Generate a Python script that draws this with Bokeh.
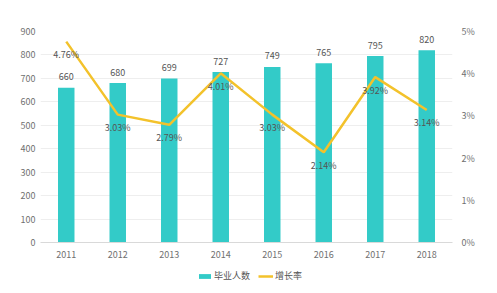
from bokeh.plotting import figure
from bokeh.layouts import column
from bokeh.models import ColumnDataSource, Range1d, LinearAxis, Legend, LegendItem, PrintfTickFormatter, FixedTicker
from bokeh.core.properties import value
from bokeh.embed import file_html
from bokeh.resources import INLINE

years = ["2011", "2012", "2013", "2014", "2015", "2016", "2017", "2018"]
graduates = [660, 680, 699, 727, 749, 765, 795, 820]
growth = [4.76, 3.03, 2.79, 4.01, 3.03, 2.14, 3.92, 3.14]
left_ticks = [0, 100, 200, 300, 400, 500, 600, 700, 800, 900]
right_ticks = [0, 1, 2, 3, 4, 5]

FONT = "Noto Sans CJK SC"
BAR = "#33CBC8"
LINE = "#F3C22B"
TXT = "#707070"
LBL = "#555555"

src = ColumnDataSource(dict(
    year=years, grad=graduates, rate=growth,
    grad_lbl=[str(v) for v in graduates],
    rate_lbl=["%.2f%%" % v for v in growth],
))

p = figure(width=497, height=267, x_range=years, y_range=Range1d(0, 900),
           output_backend="svg", toolbar_location=None,
           min_border_left=40, min_border_right=45, min_border_top=31, min_border_bottom=25)
p.extra_y_ranges = {"right": Range1d(0, 5)}
p.outline_line_color = None
p.background_fill_color = "white"
p.border_fill_color = "white"

bars = p.vbar(x="year", top="grad", width=0.32, source=src, fill_color=BAR, line_color=None)
ln = p.line(x="year", y="rate", source=src, y_range_name="right", line_color=LINE, line_width=2.5)

p.text(x="year", y="grad", text="grad_lbl", source=src, y_offset=-11,
       text_align="center", text_baseline="middle", text_font=value(FONT),
       text_font_size="9px", text_color=LBL)
p.text(x="year", y="rate", text="rate_lbl", source=src, y_range_name="right", y_offset=13,
       text_align="center", text_baseline="middle", text_font=value(FONT),
       text_font_size="9px", text_color=LBL)

p.xgrid.grid_line_color = None
p.ygrid.grid_line_color = "#EEEEEE"
p.ygrid.ticker = FixedTicker(ticks=left_ticks)

p.yaxis.ticker = FixedTicker(ticks=left_ticks)
rax = LinearAxis(y_range_name="right", ticker=FixedTicker(ticks=right_ticks),
                 formatter=PrintfTickFormatter(format="%d%%"))
p.add_layout(rax, "right")

for ax in [p.yaxis[0], p.xaxis[0], rax]:
    ax.major_tick_line_color = None
    ax.minor_tick_line_color = None
    ax.major_tick_out = 0
    ax.major_tick_in = 0
    ax.minor_tick_out = 0
    ax.minor_tick_in = 0
    ax.major_label_text_font = FONT
    ax.major_label_text_font_size = "9px"
    ax.major_label_text_color = TXT
p.yaxis[0].axis_line_color = None
p.yaxis[0].major_label_standoff = 5
rax.axis_line_color = None
rax.major_label_standoff = 9
p.xaxis.axis_line_color = "#D9D9D9"
p.xaxis.major_label_standoff = 8

# legend strip below the chart
lf = figure(width=497, height=26, output_backend="svg", toolbar_location=None,
            x_range=Range1d(0, 1), y_range=Range1d(0, 1),
            x_axis_type=None, y_axis_type=None,
            min_border_left=0, min_border_right=0, min_border_top=0, min_border_bottom=0)
lf.outline_line_color = None
lf.xgrid.grid_line_color = None
lf.ygrid.grid_line_color = None
dummy = ColumnDataSource(dict(x=[-10, -11], y=[-10, -11]))
lb = lf.vbar(x="x", top="y", width=0.3, source=dummy, fill_color=BAR, line_color=None)
ll = lf.line(x="x", y="y", source=dummy, line_color=LINE, line_width=2.5)

legend = Legend(items=[LegendItem(label="毕业人数", renderers=[lb]),
                       LegendItem(label="增长率", renderers=[ll])],
                orientation="horizontal", location=(157, 11),
                glyph_width=15, glyph_height=6, label_standoff=2, spacing=8,
                label_text_font=FONT, label_text_font_size="9px", label_text_color=LBL,
                label_height=10,
                border_line_color=None, background_fill_alpha=0,
                padding=0, margin=0)
lf.add_layout(legend, "center")

open("out.html", "w").write(file_html(column(p, lf, spacing=0), INLINE))
